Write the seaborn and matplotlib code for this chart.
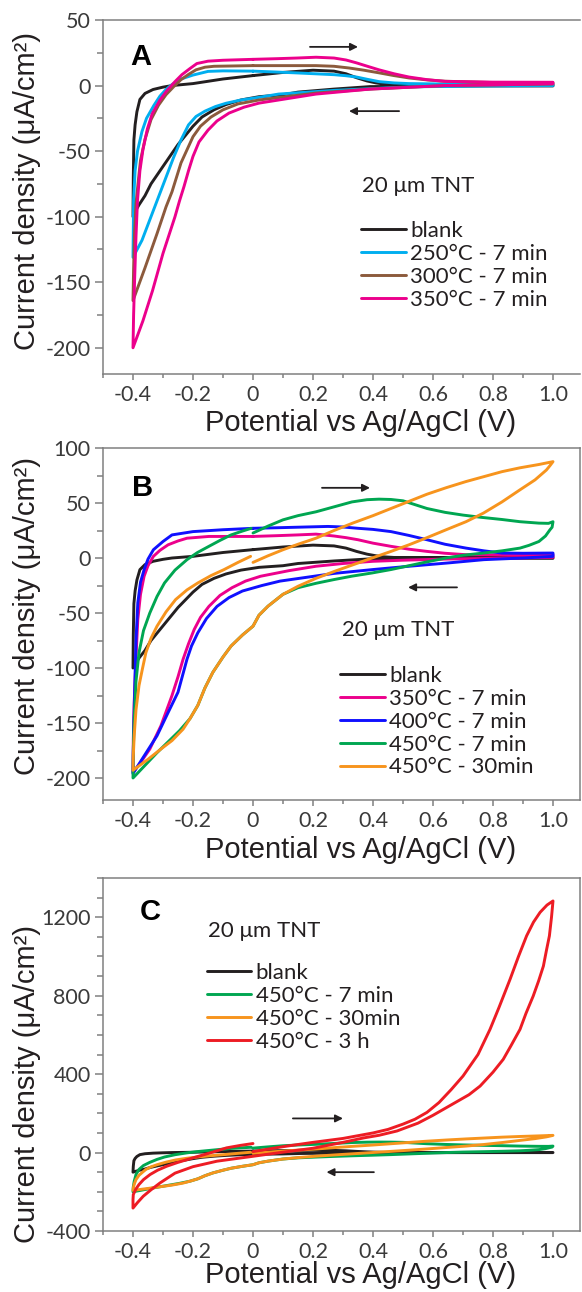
import matplotlib
matplotlib.use("Agg")
import matplotlib.pyplot as plt
import seaborn as sns
from matplotlib.ticker import MultipleLocator

sns.set_theme(style="ticks")
plt.rcParams["font.family"] = ["Lato", "DejaVu Sans"]

# ---- cyclic voltammograms (x in V, y in uA/cm2) ----
# each path: from 0 V forward to 1.0 V, back to -0.4 V, forward again to 0 V
blank_x = [0, 0.1, 0.2, 0.27, 0.31, 0.345, 0.38, 0.41, 0.44, 0.47, 0.6, 0.8, 1.0,
           1.0, 0.8, 0.6, 0.39, 0.27, 0.15, 0.1, 0.02, -0.04, -0.09, -0.13, -0.17, -0.2, -0.25, -0.31, -0.34,
           -0.36, -0.38, -0.39, -0.4,
           -0.399, -0.397, -0.393, -0.387, -0.377, -0.36, -0.333, -0.3, -0.27, -0.2, -0.1, 0]
blank_y = [7.6, 10, 11.7, 11, 9, 6, 3.5, 2, 1, 0.5, 0.5, 0.4, 0.5,
           -0.3, -0.3, -0.5, -0.8, -2.7, -5, -7, -8.5, -11, -14.5, -18.5, -24, -31, -45, -65, -75,
           -84, -91, -95, -100,
           -70, -41.5, -30, -20, -10.6, -6, -3, -1.2, 0, 1.5, 5, 7.6]

c250_x = [0, 0.08, 0.15, 0.27, 0.31, 0.345, 0.38, 0.42, 0.47, 0.52, 0.7, 1.0,
          1.0, 0.7, 0.52, 0.27, 0.085, 0.02, -0.04, -0.09, -0.125, -0.16, -0.19, -0.215, -0.24, -0.265, -0.29,
          -0.315, -0.34, -0.37, -0.4,
          -0.399, -0.398, -0.393, -0.385, -0.37, -0.355, -0.33, -0.31, -0.29, -0.27, -0.24, -0.2, -0.15, -0.1, 0]
c250_y = [11, 10.3, 9.6, 8.3, 7.5, 6.5, 4.8, 3, 2, 1.5, 1, 0.8,
          0, -0.5, -1, -3.7, -6.5, -9, -11, -13.5, -16, -19.5, -23.6, -30, -41.5, -55, -70,
          -85, -100, -118, -131,
          -110, -87.5, -65, -50, -35, -25, -15, -8, -3, 0.8, 5, 8, 10.8, 11.2, 11]

c300_x = [0, 0.1, 0.21, 0.27, 0.32, 0.37, 0.42, 0.47, 0.52, 0.58, 0.64, 0.8, 1.0,
          1.0, 0.8, 0.64, 0.39, 0.21, 0.02, -0.05, -0.1, -0.14, -0.175, -0.2, -0.22, -0.24, -0.255, -0.27,
          -0.29, -0.32, -0.36, -0.4,
          -0.398, -0.395, -0.39, -0.382, -0.375, -0.36, -0.34, -0.315, -0.29, -0.265, -0.24, -0.215, -0.19,
          -0.16, -0.13, 0]
c300_y = [15.2, 15.2, 15.2, 14.7, 13.4, 11.7, 9.7, 7.6, 5.8, 4.3, 3.3, 2.3, 2,
          1.2, 0.5, 0, -2.7, -5.7, -11, -14, -18.5, -24, -31, -39, -49, -59, -70, -81,
          -92.6, -113, -139, -164,
          -140, -113, -90, -72, -57, -41, -26, -15, -7, -1, 4.5, 8.5, 12,
          14, 14.7, 15.2]

c350a_x = [0, 0.08, 0.147, 0.21, 0.27, 0.31, 0.345, 0.38, 0.42, 0.47, 0.52, 0.58, 0.64, 0.8, 1.0,
           1.0, 0.8, 0.64, 0.39, 0.21, 0.02, -0.03, -0.08, -0.12, -0.15, -0.18, -0.2, -0.215, -0.23, -0.245,
           -0.26, -0.3, -0.335, -0.367, -0.4,
           -0.398, -0.395, -0.39, -0.385, -0.377, -0.367, -0.352, -0.336, -0.31, -0.286, -0.26, -0.237,
           -0.21, -0.187, -0.15, -0.1, 0]
c350a_y = [20, 20.5, 21, 21.6, 21, 19.5, 17.3, 14.8, 12, 9, 6.5, 4.5, 3.2, 2.6, 2.5,
           1.4, 0.5, 0, -2.7, -6.5, -13.4, -16.5, -21, -27, -34, -43, -54, -65, -77, -88,
           -100, -128, -156.5, -179.5, -200,
           -175, -151, -115, -87.5, -65, -49, -33, -21.5, -11, -3.6, 3, 8.3,
           13, 16.8, 18.6, 19.3, 20]

c350b_x = [0, 0.08, 0.15, 0.21, 0.27, 0.31, 0.35, 0.4, 0.46, 0.52, 0.58, 0.64, 0.71, 0.85, 1.0,
           1.0, 0.8, 0.64, 0.5, 0.4, 0.3, 0.21, 0.12, 0.025, -0.025, -0.07, -0.11, -0.147, -0.175, -0.196,
           -0.215, -0.233, -0.25, -0.27, -0.307, -0.344, -0.375, -0.4,
           -0.399, -0.396, -0.39, -0.384, -0.375, -0.363, -0.35, -0.332, -0.31, -0.283, -0.25, -0.22,
           -0.147, 0]
c350b_y = [19.6, 20.3, 21, 21.7, 20, 18.5, 16.6, 13.5, 10.6, 8, 6, 4.3, 3, 2.8, 3,
           0.6, -0.3, -1, -2, -3, -5, -7.5, -11.5, -16.6, -21, -27, -34, -44, -54, -65,
           -78, -92, -108, -125, -152.6, -173.7, -186, -195,
           -165, -131, -90, -56, -33, -16.6, -7, 1.5, 7, 12, 15.5, 18,
           19.6, 19.6]

c400_x = [0, 0.08, 0.15, 0.25, 0.3, 0.35, 0.4, 0.46, 0.52, 0.58, 0.64, 0.71, 0.77, 0.83, 0.9, 1.0,
          1.0, 0.9, 0.77, 0.65, 0.52, 0.4, 0.27, 0.18, 0.09, 0.03, -0.035, -0.08, -0.12, -0.155, -0.184,
          -0.205, -0.22, -0.235, -0.25, -0.283, -0.32, -0.37, -0.4,
          -0.398, -0.394, -0.39, -0.384, -0.375, -0.363, -0.35, -0.332, -0.3, -0.27, -0.2, -0.1, 0]
c400_y = [27, 27.5, 28, 28.7, 28.2, 27, 26, 24, 20.5, 16.6, 12.5, 9, 6.5, 4.5, 4.3, 4.5,
          1.5, 0, -1.5, -4.5, -7.5, -10.5, -14, -17.5, -21, -25, -30, -36, -44, -55, -68,
          -80, -92, -107, -122, -140.5, -161.6, -183, -196,
          -160, -116, -75, -40.8, -22, -10.6, -1, 7.5, 15, 21, 24, 25.7, 27]

c450_x = [0, 0.05, 0.1, 0.15, 0.21, 0.27, 0.33, 0.38, 0.42, 0.46, 0.5, 0.54, 0.58, 0.64, 0.7, 0.76,
          0.83, 0.89, 0.953, 0.985, 1.0,
          0.997, 0.99, 0.975, 0.953, 0.92, 0.89, 0.83, 0.768, 0.7, 0.644, 0.58, 0.52, 0.46, 0.397, 0.33,
          0.27, 0.21, 0.15, 0.1, 0.05, 0.02, 0, -0.035, -0.073, -0.1, -0.134, -0.16, -0.184, -0.21, -0.245,
          -0.32, -0.4,
          -0.399, -0.396, -0.39, -0.38, -0.365, -0.344, -0.32, -0.295, -0.26, -0.22, -0.185, -0.147,
          -0.11, -0.073, -0.035, -0.006]
c450_y = [22.7, 29, 34.7, 38.5, 42, 46.5, 51, 53, 53.5, 53.2, 52, 48.5, 45, 41.5, 39, 37,
          35, 33, 31.7, 31.5, 33,
          28, 25.7, 20, 15, 11.5, 9, 6.5, 4.5, 2.5, 0, -3.5, -7, -10.5, -13.6, -16.5,
          -19.6, -23, -27, -33, -43.8, -52, -62, -70, -80, -90, -104, -118, -134, -146, -157,
          -177, -200,
          -175, -146.5, -112, -86, -66, -50, -35, -22.7, -11, -1.5, 5, 10.6,
          16, 21, 24.5, 27]

c450l_x = [0, 0.05, 0.1, 0.15, 0.21, 0.27, 0.335, 0.4, 0.46, 0.52, 0.58, 0.645, 0.71, 0.77, 0.83,
           0.89, 0.953, 0.98, 1.0,
           0.99, 0.978, 0.94, 0.89, 0.83, 0.768, 0.71, 0.644, 0.58, 0.52, 0.46, 0.397, 0.335, 0.273,
           0.21, 0.15, 0.1, 0.05, 0.02, 0, -0.035, -0.073, -0.1, -0.134, -0.16, -0.184, -0.21, -0.233,
           -0.27, -0.307, -0.35, -0.4,
           -0.399, -0.396, -0.39, -0.38, -0.368, -0.357, -0.34, -0.32, -0.29, -0.258, -0.22, -0.184,
           -0.14, -0.097, -0.05, -0.008]
c450l_y = [-4, 2, 7.5, 12.5, 18, 25, 32, 38.5, 45, 51.5, 58, 64, 69.5, 74, 78.5,
           82, 85, 86.5, 87.6,
           84, 80, 71, 62, 51, 40.8, 33, 25.7, 18.5, 12, 6, 0, -6, -12,
           -18.5, -25.7, -33, -43.8, -52, -62, -70, -80, -90, -104, -118, -134, -146, -155.6,
           -166, -173.7, -183, -193,
           -180, -161.6, -138, -116, -100, -86, -73, -62, -49, -37.8, -29, -22.7,
           -16, -10.6, -4, 1.5]

c3h_x = [0, 0.1, 0.2, 0.3, 0.4, 0.45, 0.5, 0.54, 0.58, 0.62, 0.66, 0.7, 0.75, 0.79, 0.82, 0.857,
         0.885, 0.912, 0.935, 0.957, 0.98, 1.0,
         0.995, 0.988, 0.978, 0.968, 0.952, 0.934, 0.91, 0.89, 0.86, 0.834, 0.8, 0.757, 0.72, 0.68, 0.64,
         0.6, 0.55, 0.48, 0.42, 0.37, 0.3, 0.2, 0.1, 0, -0.12, -0.2, -0.26, -0.31, -0.34, -0.366, -0.385,
         -0.4,
         -0.4, -0.399, -0.39, -0.38, -0.365, -0.343, -0.318, -0.288, -0.25, -0.2, -0.15, -0.088, -0.04, 0]
c3h_y = [5, 30, 52, 72, 100, 118, 145, 170, 205, 255, 320, 390, 500, 628, 740, 884,
         1000, 1105, 1175, 1225, 1262, 1283,
         1200, 1105, 1030, 951, 875, 798, 710, 628, 545, 475, 410, 339, 295, 260, 225,
         190, 150, 110, 88, 75, 52, 22, 2, -19, -44, -72, -105, -155, -190, -223, -255,
         -283,
         -240, -214, -185, -163, -138, -112, -90, -70, -50, -27, -5, 24, 37, 46]

xtick_vals = [-0.4, -0.2, 0, 0.2, 0.4, 0.6, 0.8, 1.0]
xtick_text = ["-0.4", "-0.2", "0", "0.2", "0.4", "0.6", "0.8", "1.0"]

col = {"blank": "#231f20", "c250": "#00aeef", "c300": "#8c5a3c", "c350": "#ec008c",
       "c400": "#1010ff", "c450": "#00a651", "c450l": "#f7941d", "c3h": "#ed1c24"}

panels = [
    dict(letter="A", rect=[103, 20, 580, 374], ylim=(-220, 50), yticks=[-200, -150, -100, -50, 0, 50], yminor=25,
         curves=[(blank_x, blank_y, "blank", "blank"), (c250_x, c250_y, "c250", "250°C - 7 min"),
                 (c300_x, c300_y, "c300", "300°C - 7 min"), (c350a_x, c350a_y, "c350", "350°C - 7 min")],
         note=(0.363, -76.5), leg=(0.541, 0.432), arrows=[((0.19, 29.5), (0.35, 29.5)), ((0.487, -19.5), (0.32, -19.5))],
         lpos=(0.0797, 0.895), ylab_y=0.517, xlab_y=-0.138, right=False),
    dict(letter="B", rect=[103, 448, 580, 800], ylim=(-220, 100), yticks=[-200, -150, -100, -50, 0, 50, 100], yminor=25,
         curves=[(blank_x, blank_y, "blank", "blank"), (c350b_x, c350b_y, "c350", "350°C - 7 min"),
                 (c400_x, c400_y, "c400", "400°C - 7 min"), (c450_x, c450_y, "c450", "450°C - 7 min"),
                 (c450l_x, c450l_y, "c450l", "450°C - 30min")],
         note=(0.295, -65), leg=(0.497, 0.381), arrows=[((0.23, 63.8), (0.39, 63.8)), ((0.68, -26.7), (0.517, -26.7))],
         lpos=(0.082, 0.886), ylab_y=0.523, xlab_y=-0.142, right=True),
    dict(letter="C", rect=[103, 878, 580, 1231], ylim=(-400, 1400), yticks=[-400, 0, 400, 800, 1200], yminor=100,
         curves=[(blank_x, blank_y, "blank", "blank"), (c450_x, c450_y, "c450", "450°C - 7 min"),
                 (c450l_x, c450l_y, "c450l", "450°C - 30min"), (c3h_x, c3h_y, "c3h", "450°C - 3 h")],
         note=(-0.15, 1129), leg=(0.218, 0.759), arrows=[((0.133, 174), (0.30, 174)), ((0.403, -100), (0.245, -100))],
         lpos=(0.0985, 0.904), ylab_y=0.416, xlab_y=-0.125, right=True),
]

W, H = 582, 1292
fig = plt.figure(figsize=(W / 100, H / 100), dpi=100)
spine_c = "#808080"
tick_c = "#3a3a3a"

for p in panels:
    l, t, r, b = p["rect"]
    ax = fig.add_axes([l / W, 1 - b / H, (r - l) / W, (b - t) / H])
    handles, labels = [], []
    for xs, ys, key, lab in p["curves"]:
        sns.lineplot(x=xs, y=ys, sort=False, estimator=None, color=col[key], linewidth=2.1, ax=ax)
        handles.append(ax.lines[-1])
        labels.append(lab)
    ax.set_xlim(-0.5, 1.09)
    ax.set_ylim(*p["ylim"])
    ax.set_xticks(xtick_vals)
    ax.set_xticklabels(xtick_text)
    ax.set_yticks(p["yticks"])
    ax.set_yticklabels([str(v) for v in p["yticks"]])
    ax.xaxis.set_minor_locator(MultipleLocator(0.1))
    ax.yaxis.set_minor_locator(MultipleLocator(p["yminor"]))
    ax.tick_params(axis="both", which="both", direction="out", color=spine_c, width=1.1,
                   labelsize=15.5, labelcolor=tick_c)
    ax.tick_params(axis="y", which="major", length=6, pad=3)
    ax.tick_params(axis="y", which="minor", length=4)
    ax.tick_params(axis="x", which="major", length=4, pad=4)
    ax.tick_params(axis="x", which="minor", length=3)
    for s in ax.spines.values():
        s.set_color(spine_c)
        s.set_linewidth(1.1)
    ax.spines["right"].set_visible(p["right"])

    ax.set_xlabel("Potential vs Ag/AgCl (V)", family="Liberation Sans", fontsize=21, color="#231f20")
    ax.set_ylabel("Current density (μA/cm²)", family="Liberation Sans", fontsize=21, color="#231f20")
    ax.xaxis.set_label_coords(0.541, p["xlab_y"])
    ax.xaxis.label.set_va("center")
    ax.yaxis.set_label_coords(-0.159, p["ylab_y"])
    ax.yaxis.label.set_va("center")

    ax.text(p["lpos"][0], p["lpos"][1], p["letter"], transform=ax.transAxes, ha="center", va="center",
            family="Liberation Sans", fontweight="bold", fontsize=21, color="black")
    ax.text(p["note"][0], p["note"][1], "20 μm TNT", ha="left", va="center", fontsize=16, color="#231f20")
    ax.legend(handles, labels, loc="upper left", bbox_to_anchor=p["leg"], frameon=False, borderpad=0,
              borderaxespad=0, handlelength=2.0, handletextpad=0.2, labelspacing=0.13,
              prop={"family": ["Lato", "DejaVu Sans"], "size": 16}, labelcolor="#231f20")
    for start, end in p["arrows"]:
        ax.annotate("", xy=end, xytext=start,
                    arrowprops=dict(arrowstyle="-|>", color="#231f20", lw=1.3, mutation_scale=11,
                                    shrinkA=0, shrinkB=0))

fig.savefig("out.png", dpi=100)
